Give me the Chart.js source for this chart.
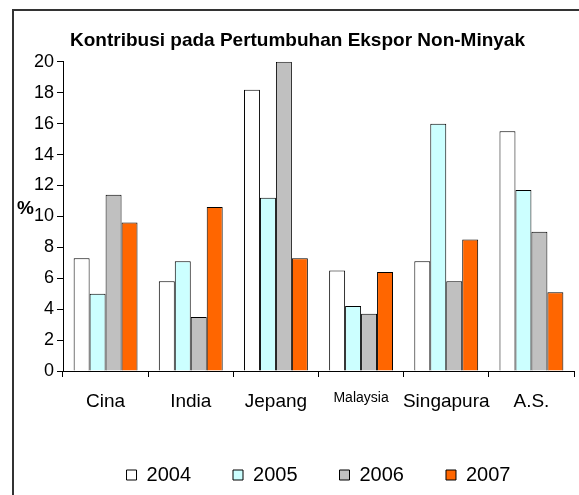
<!DOCTYPE html>
<html>
<head>
<meta charset="utf-8">
<script src="https://cdn.jsdelivr.net/npm/chart.js@4.4.0/dist/chart.umd.min.js"></script>
<style>
	html, body { margin: 0; padding: 0; background: #fff; overflow: hidden; }
	#frame { position: absolute; left: 12px; top: 9px; width: 620px; height: 540px; border-left: 2px solid #333; border-top: 2px solid #333; }
	#wrap { position: absolute; left: 0; top: 0; width: 579px; height: 495px; }
</style>
</head>
<body>
<div id="frame"></div>
<div id="wrap"><canvas id="myChart" width="579" height="495"></canvas></div>
<script>
// data (% contribution)
const countries = ['Cina', 'India', 'Jepang', 'Malaysia', 'Singapura', 'A.S.'];
const years = ['2004', '2005', '2006', '2007'];
const val2004 = [7.3, 5.8, 18.2, 6.5, 7.1, 15.5];
const val2005 = [5.0, 7.1, 11.2, 4.2, 16.0, 11.7];
const val2006 = [11.4, 3.5, 20.0, 3.7, 5.8, 9.0];
const val2007 = [9.6, 10.6, 7.3, 6.4, 8.5, 5.1];
const yMin = 0;
const yMax = 20;
const yStep = 2;

const FONT = '"Liberation Sans", Arial, sans-serif';
const colors = ['#FFFFFF', '#CCFFFF', '#C0C0C0', '#FF6600'];

function makeDataset(label, values, color) {
	return {
		label: label,
		data: values,
		backgroundColor: color,
		borderColor: '#000',
		borderWidth: 1,
		categoryPercentage: 0.75,
		barPercentage: 1.0
	}
}

// the "%" sits left of the y tick labels, not rotated
const percentLabel = {
	id: 'percentLabel',
	afterDraw(chart) {
		const ctx = chart.ctx;
		ctx.save();
		ctx.font = 'bold 19px ' + FONT;
		ctx.fillStyle = '#000';
		ctx.textBaseline = 'middle';
		ctx.textAlign = 'left';
		ctx.fillText('%', chart.chartArea.left - 46, chart.chartArea.top + 147);
		ctx.restore();
	}
};

const ctx = document.getElementById('myChart').getContext('2d');
const myChart = new Chart(ctx, {
	type: 'bar',
	data: {
		labels: countries,
		datasets: [
			makeDataset(years[0], val2004, colors[0]),
			makeDataset(years[1], val2005, colors[1]),
			makeDataset(years[2], val2006, colors[2]),
			makeDataset(years[3], val2007, colors[3])
		]
	},
	plugins: [percentLabel],
	options: {
		responsive: false,
		animation: false,
		layout: { padding: { left: 21, right: 5, top: 0, bottom: 10 } },
		plugins: {
			title: {
				display: true,
				text: 'Kontribusi pada Pertumbuhan Ekspor Non-Minyak',
				color: '#000',
				font: { family: FONT, size: 19, weight: 'bold' },
				padding: { top: 29, bottom: 10 }
			},
			legend: {
				position: 'bottom',
				fullSize: false,
				maxHeight: 62,
				labels: {
					boxWidth: 10,
					boxHeight: 10,
					padding: 42,
					color: '#000',
					font: { family: FONT, size: 20 }
				}
			},
			tooltip: { enabled: false }
		},
		scales: {
			x: {
				grid: { drawOnChartArea: false, tickLength: 6, color: '#000' },
				border: { color: '#000' },
				ticks: {
					color: '#000',
					padding: 13,
					maxRotation: 0,
					autoSkip: false,
					font: (c) => c.index === 3 ? { family: FONT, size: 14 } : { family: FONT, size: 19 }
				},
				afterFit: (scale) => { scale.height = 52; }
			},
			y: {
				min: yMin,
				max: yMax,
				grid: { drawOnChartArea: false, tickLength: 6, color: '#000' },
				border: { color: '#000' },
				ticks: {
					stepSize: yStep,
					color: '#000',
					padding: 3,
					font: { family: FONT, size: 18 }
				},
				afterFit: (scale) => { scale.width = 42; }
			}
		}
	}
});
</script>
</body>
</html>
